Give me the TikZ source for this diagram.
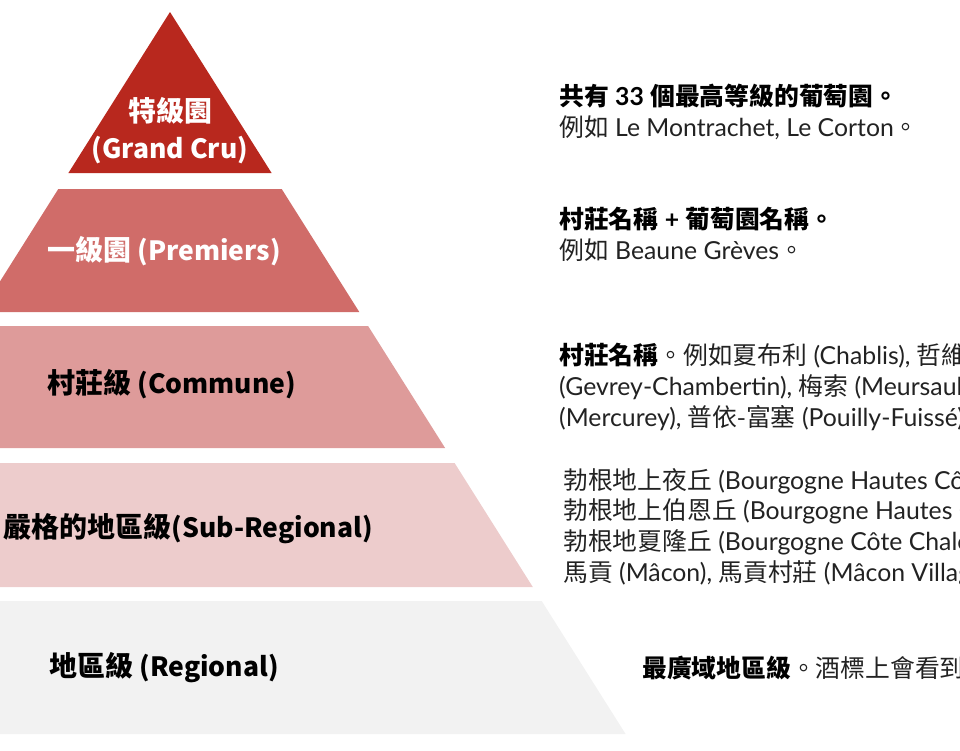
\documentclass[tikz,border=0pt]{standalone}
\usepackage{fontspec}
\setmainfont{Lato}
\newfontfamily\cjk{Noto Sans CJK TC}
\newcommand\zh[1]{{\cjk #1}}
\newcommand\zhb[1]{{\cjk\bfseries #1}}
\newcommand\lat[1]{{\fontsize{26.5}{37}\selectfont #1}}
\definecolor{tierA}{HTML}{B8281E}
\definecolor{tierB}{HTML}{D06C69}
\definecolor{tierC}{HTML}{DE9B9A}
\definecolor{tierD}{HTML}{EDCCCC}
\definecolor{tierE}{HTML}{F2F2F2}
\definecolor{bodytext}{HTML}{222222}
\begin{document}
\begin{tikzpicture}[x=1pt,y=-1pt,
  tierlabel/.style={inner sep=0pt, font=\cjk\bfseries\fontsize{28}{37}\selectfont, align=center},
  desc/.style={inner sep=0pt, anchor=west, align=left, text=bodytext, font=\fontsize{24.8}{31}\selectfont}]
\useasboundingbox (0,0) rectangle (960,750);
\clip (0,0) rectangle (960,750);
% tiers
\fill[tierA] (170,12) -- (271.6,173) -- (68.4,173) -- cycle;
\fill[tierB] (58.3,189) -- (281.7,189) -- (359.3,312) -- (-19.3,312) -- cycle;
\fill[tierC] (-28.1,326) -- (368.1,326) -- (445.1,448) -- (-105.1,448) -- cycle;
\fill[tierD] (-114.6,463) -- (454.6,463) -- (532.8,587) -- (-192.8,587) -- cycle;
\fill[tierE] (-201.7,601) -- (541.7,601) -- (625.6,734) -- (-285.6,734) -- cycle;
% tier labels
\node[tierlabel, text=white] (grand) at (170,131) {特級園\\\lat{(Grand Cru)}};
\node[tierlabel, text=white, anchor=west] (prem) at (47,251) {一級園 \lat{(Premiers)}};
\node[tierlabel, text=black, anchor=west] (comm) at (47,384) {村莊級 \lat{(Commune)}};
\node[tierlabel, text=black, anchor=east] (subreg) at (373,529) {嚴格的地區級\lat{(Sub-Regional)}};
\node[tierlabel, text=black, anchor=west] (reg) at (49,668) {地區級 \lat{(Regional)}};
% descriptions
\node[desc] (dgrand) at (559,111.5) {{\color{black}\zhb{共有} \textbf{33} \zhb{個最高等級的葡萄園。}}\\\zh{例如} Le Montrachet, Le Corton\zh{。}};
\node[desc] (dprem) at (559,234.5) {{\color{black}\zhb{村莊名稱} \textbf{+} \zhb{葡萄園名稱。}}\\\zh{例如} Beaune Grèves\zh{。}};
\node[desc] (dcomm) at (559,387) {{\color{black}\zhb{村莊名稱}}\zh{。例如夏布利} (Chablis), \zh{哲維瑞}\\(Gevrey-Chambertin), \zh{梅索} (Meursault),\\(Mercurey), \zh{普依-富塞} (Pouilly-Fuissé)};
\node[desc, font=\fontsize{24.8}{30.7}\selectfont] (dsub) at (563,527) {\zh{勃根地上夜丘} (Bourgogne Hautes Côtes\\\zh{勃根地上伯恩丘} (Bourgogne Hautes Côtes\\\zh{勃根地夏隆丘} (Bourgogne Côte Chalonnaise)\\\zh{馬貢} (Mâcon), \zh{馬貢村莊} (Mâcon Villages)};
\node[desc] (dreg) at (642,668) {{\color{black}\zhb{最廣域地區級}}\zh{。酒標上會看到}};
\end{tikzpicture}
\end{document}
